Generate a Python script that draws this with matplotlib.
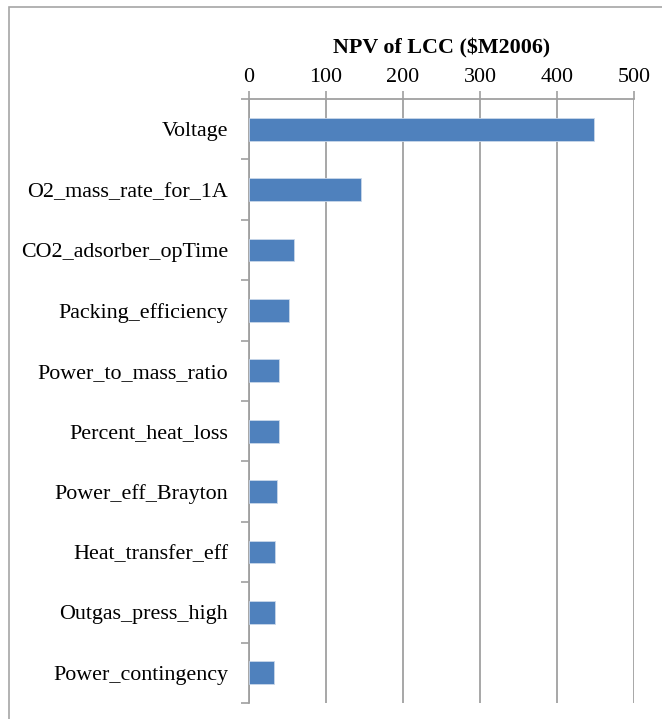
import numpy as np
import matplotlib.pyplot as plt
from matplotlib.patches import Rectangle

plt.switch_backend('Agg')
plt.rcParams['font.family'] = ['Liberation Serif', 'DejaVu Serif']

# data (top to bottom)
params = ['Voltage', 'O2_mass_rate_for_1A', 'CO2_adsorber_opTime',
          'Packing_efficiency', 'Power_to_mass_ratio', 'Percent_heat_loss',
          'Power_eff_Brayton', 'Heat_transfer_eff', 'Outgas_press_high',
          'Power_contingency']
npv = [448, 145, 59, 52, 39, 39, 36, 34, 34, 32.5]
xticks = [0, 100, 200, 300, 400, 500]

W, H = 662, 719
fs = 15.8
fig = plt.figure(figsize=(W / 100, H / 100), dpi=100)

# grey frame around the chart (cropped at right/bottom)
fig.patches.append(Rectangle((9 / W, -0.1), 1.2, (H - 7) / H + 0.1,
                             transform=fig.transFigure, fill=False,
                             edgecolor='#A6A6A6', linewidth=1.2))

ax = fig.add_axes([249 / W, (H - 703) / H, (634 - 249) / W, (703 - 99) / H])
grey = '#A0A0A0'

y = np.arange(len(params))
ax.barh(y, npv, height=0.38, color='#4F81BD', edgecolor='#C9D7EA',
        linewidth=0.6, zorder=3)
ax.set_ylim(len(params) - 0.5, -0.5)
ax.set_xlim(0, 500)

ax.xaxis.tick_top()
ax.set_xticks(xticks)
ax.set_xticklabels([str(t) for t in xticks], fontsize=fs)
ax.tick_params(axis='x', length=6, width=1.2, color=grey, pad=2.5)
ax.grid(axis='x', color=grey, linewidth=1.3, zorder=0)

ax.set_yticks(y)
ax.set_yticklabels(params, fontsize=fs)
ax.tick_params(axis='y', length=0, pad=15)
ax.set_yticks(np.arange(len(params) + 1) - 0.5, minor=True)
ax.tick_params(axis='y', which='minor', length=6, width=1.2, color=grey)

for s in ['right', 'bottom']:
    ax.spines[s].set_visible(False)
for s in ['left', 'top']:
    ax.spines[s].set_color(grey)
    ax.spines[s].set_linewidth(1.3)

ax.set_title('NPV of LCC ($M2006)', fontsize=fs, fontweight='bold', pad=33)

fig.savefig('out.png', dpi=100)
print("saved")
